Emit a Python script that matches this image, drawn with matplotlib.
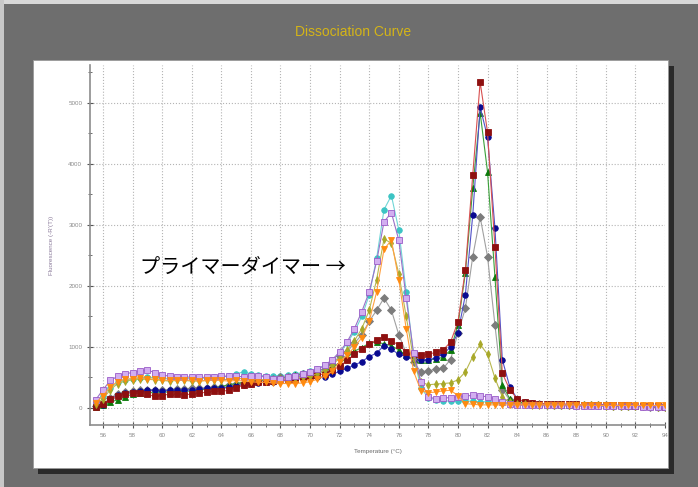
import numpy as np
import matplotlib
matplotlib.use('Agg')
import matplotlib.pyplot as plt
from matplotlib.patches import Rectangle
from matplotlib.ticker import MultipleLocator

# temperature grid (deg C), one reading every 0.5 degree
temps = np.arange(55.5, 94.01, 0.5)

red = [20, 60, 140, 200, 230, 250, 240, 220, 190, 200,
       230, 220, 210, 230, 240, 260, 280, 270, 290, 320,
       380, 400, 420, 420, 440, 450, 470, 480, 500, 520,
       540, 560, 620, 680, 780, 880, 960, 1040, 1120, 1160,
       1100, 1030, 920, 880, 860, 880, 910, 950, 1080, 1410,
       2260, 3820, 5340, 4520, 2640, 570, 300, 150, 100, 80,
       70, 70, 60, 60, 60, 60, 50, 50, 50, 50,
       40, 40, 40, 30, 30, 30, 30, 20]
blue = [30, 50, 150, 210, 240, 260, 280, 290, 290, 280,
        290, 300, 290, 300, 310, 320, 330, 320, 340, 360,
        380, 400, 410, 420, 430, 440, 450, 470, 480, 490,
        500, 510, 550, 600, 650, 700, 760, 840, 900, 1020,
        960, 880, 840, 800, 780, 790, 820, 880, 1000, 1230,
        1850, 3160, 4930, 4440, 2950, 790, 350, 150, 100, 80,
        70, 70, 60, 60, 60, 60, 50, 50, 50, 50,
        40, 40, 40, 40, 30, 30, 30, 30]
green = [10, 40, 100, 130, 180, 230, 240, 250, 250, 260,
         260, 270, 270, 280, 290, 310, 330, 350, 380, 400,
         420, 440, 450, 460, 480, 490, 510, 540, 560, 570,
         580, 600, 660, 730, 820, 930, 990, 1060, 1080, 1050,
         1020, 950, 860, 800, 780, 790, 800, 830, 950, 1360,
         2210, 3600, 4840, 3870, 2150, 380, 150, 100, 80, 70,
         60, 60, 60, 50, 50, 50, 50, 50, 40, 40,
         40, 40, 30, 30, 30, 30, 30, 20]
gray = [30, 60, 170, 230, 260, 280, 290, 300, 300, 290,
        300, 310, 310, 320, 320, 330, 340, 350, 370, 390,
        410, 430, 450, 460, 480, 500, 510, 530, 550, 570,
        600, 640, 720, 850, 920, 1060, 1200, 1420, 1600, 1800,
        1600, 1200, 900, 750, 590, 610, 630, 650, 790, 1230,
        1630, 2480, 3130, 2480, 1360, 300, 130, 90, 70, 60,
        60, 50, 50, 50, 50, 40, 40, 40, 40, 40,
        30, 30, 30, 30, 30, 20, 20, 20]
olive = [60, 150, 300, 400, 440, 460, 470, 470, 460, 450,
         440, 450, 450, 440, 440, 450, 450, 460, 470, 480,
         480, 480, 470, 460, 460, 470, 480, 490, 500, 520,
         560, 620, 700, 820, 950, 1100, 1300, 1600, 2100, 2770,
         2700, 2200, 1500, 800, 420, 380, 390, 400, 410, 460,
         590, 840, 1040, 880, 490, 180, 90, 70, 60, 50,
         50, 50, 50, 40, 40, 40, 40, 40, 40, 30,
         30, 30, 30, 30, 30, 30, 20, 20]
purple = [130, 300, 450, 520, 560, 580, 600, 620, 580, 540,
          520, 510, 510, 500, 500, 500, 510, 520, 520, 520,
          510, 520, 530, 500, 470, 480, 500, 520, 550, 590,
          630, 700, 790, 920, 1080, 1300, 1580, 1900, 2400, 3050,
          3200, 2750, 1800, 900, 430, 180, 150, 160, 170, 180,
          190, 210, 200, 180, 150, 100, 70, 50, 40, 40,
          40, 40, 40, 40, 40, 30, 30, 30, 30, 30,
          30, 30, 30, 30, 20, 20, 20, 20]
cyan = [100, 200, 330, 420, 460, 480, 490, 500, 500, 490,
        480, 490, 490, 480, 480, 490, 500, 510, 520, 560,
        590, 560, 540, 520, 520, 530, 540, 560, 580, 610,
        640, 700, 780, 900, 1060, 1250, 1500, 1850, 2450, 3250,
        3480, 2920, 1900, 850, 320, 170, 130, 120, 110, 110,
        110, 110, 100, 100, 90, 80, 70, 60, 60, 50,
        50, 50, 50, 50, 40, 40, 40, 40, 40, 40,
        40, 30, 30, 30, 30, 30, 30, 30]
orange = [80, 200, 350, 430, 470, 480, 490, 480, 470, 460,
          450, 450, 460, 450, 440, 450, 460, 450, 440, 450,
          440, 430, 420, 420, 410, 400, 400, 400, 410, 430,
          470, 520, 600, 760, 860, 1000, 1150, 1420, 1900, 2600,
          2750, 2100, 1300, 600, 280, 250, 260, 280, 290, 200,
          70, 60, 50, 50, 50, 50, 50, 50, 50, 50,
          50, 50, 50, 50, 50, 50, 50, 40, 40, 40,
          40, 40, 40, 40, 40, 40, 40, 40]

# (values, marker, marker face, marker edge, line colour) - drawn in this order
series = [(cyan, 'o', '#3cc4c4', '#3cc4c4', '#6fd6d6'),
          (gray, 'D', '#7c7c7c', '#7c7c7c', '#a0a0a0'),
          (green, '^', '#0a7a0a', '#0a7a0a', '#3aa03a'),
          (blue, 'o', '#0a0a90', '#0a0a90', '#5050c8'),
          (red, 's', '#8e1010', '#8e1010', '#d85050'),
          (olive, 'd', '#a8a828', '#a8a828', '#b8b850'),
          (purple, 's', '#d2aef0', '#9a5cc8', '#9a70c8'),
          (orange, 'v', '#ff8a10', '#ff8a10', '#ffa040')]

plt.rcParams['font.family'] = ['Liberation Sans', 'DejaVu Sans']

fig = plt.figure(figsize=(6.98, 4.87), dpi=100)
fig.patch.set_facecolor('#6e6e6e')
W, H = 698.0, 487.0

# light bevel on top / left edge
fig.patches.append(Rectangle((0, 1 - 4 / H), 1, 4 / H, transform=fig.transFigure,
                             facecolor='#d8d8d8', edgecolor='none', zorder=-5))
fig.patches.append(Rectangle((0, 0), 4 / W, 1, transform=fig.transFigure,
                             facecolor='#c8c8c8', edgecolor='none', zorder=-5))
# shadow + white panel
fig.patches.append(Rectangle((38 / W, 1 - 474 / H), (674 - 38) / W, (474 - 66) / H,
                             transform=fig.transFigure, facecolor='#2a2a2a',
                             edgecolor='none', zorder=-4))
fig.patches.append(Rectangle((33 / W, 1 - 468 / H), (668 - 33) / W, (468 - 60) / H,
                             transform=fig.transFigure, facecolor='white',
                             edgecolor='#9a9a9a', linewidth=0.6, zorder=-3))

fig.text(353 / W, 1 - 32 / H, 'Dissociation Curve', color='#d4b418',
         fontsize=10, ha='center', va='center')

ax = fig.add_axes([90 / W, 1 - 425 / H, 575 / W, 360 / H])
ax.set_zorder(2)
ax.set_facecolor('none')

for vals, mk, mf, me, lc in series:
    ax.plot(temps, vals, color=lc, linewidth=0.8, marker=mk, markersize=4,
            markerfacecolor=mf, markeredgecolor=me, markeredgewidth=0.6)

ax.set_xlim(55.12, 94)
ax.set_ylim(-280, 5620)
ax.xaxis.set_major_locator(MultipleLocator(2))
ax.xaxis.set_minor_locator(MultipleLocator(1))
ax.yaxis.set_major_locator(MultipleLocator(1000))
ax.yaxis.set_minor_locator(MultipleLocator(500))
ax.grid(True, which='major', linestyle=':', color='#b4b4b4', linewidth=0.8)

for s in ['top', 'right']:
    ax.spines[s].set_visible(False)
for s in ['left', 'bottom']:
    ax.spines[s].set_color('#8c8c8c')
    ax.spines[s].set_linewidth(1.2)

ax.tick_params(which='both', direction='inout', color='#555555', labelsize=4.5,
               labelcolor='#8a8a8a')
ax.tick_params(which='major', length=4)
ax.tick_params(which='minor', length=3)

ax.set_xlabel('Temperature (\u00b0C)', fontsize=4.5, color='#6a6a6a', labelpad=8)
ax.set_ylabel("Fluorescence (-R'(T))", fontsize=4.5, color='#8a7a9a', labelpad=10)

ax.text(58.5, 2300, 'プライマーダイマー →', fontsize=14.5, color='black',
        ha='left', va='center', family=['Noto Sans CJK JP', 'DejaVu Sans'])

plt.savefig('out.png', dpi=100, facecolor=fig.get_facecolor())
